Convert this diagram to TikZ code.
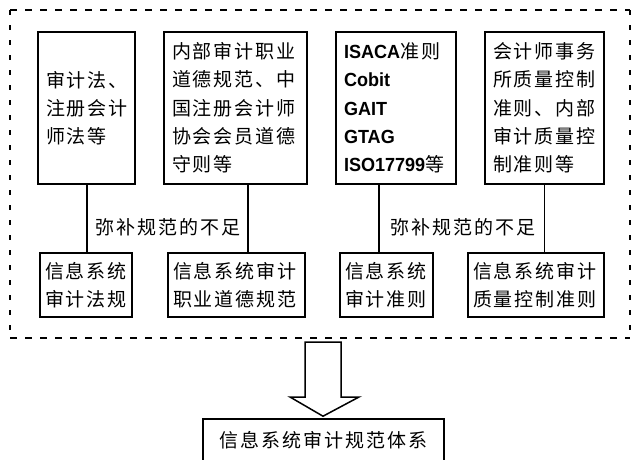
\documentclass[tikz,border=0pt]{standalone}
\usepackage{fontspec}
\setmainfont{Noto Sans CJK SC}[LetterSpace=10]
\newfontfamily\latf{Liberation Sans}[FakeStretch=0.95]
\usetikzlibrary{calc}
\tikzset{
  box/.style 2 args={draw, line width=1.6pt, inner sep=0pt, minimum width=#1, minimum height=#2,
     text width=#1-16pt, align=left, font=\fontsize{19}{28.3}\selectfont},
  sbox/.style 2 args={box={#1}{#2}, text width=#1-10pt},
  conn/.style={line width=1.4pt},
  lbl/.style={inner sep=0pt, font=\fontsize{19}{24}\selectfont},
  hframe/.style={line width=1.3pt, dash pattern=on 7pt off 8pt},
  vframe/.style={line width=1.3pt, dash pattern=on 5pt off 10pt},
  bigarrow/.style={draw, line width=1.5pt, fill=white, line join=miter}
}
\begin{document}
\begin{tikzpicture}[x=1pt,y=-1pt]
\useasboundingbox (0,0) rectangle (637,459);
\clip (0,0) rectangle (637,459);
\draw[hframe] (10,10) -- (630,10);
\draw[hframe] (10,338) -- (630,338);
\draw[vframe] (10,10) -- (10,338);
\draw[vframe] (630,10) -- (630,338);
% top boxes
\node[box={97pt}{152pt}] (t1) at (86.5,108) {审计法、\\注册会计\\师法等};
\node[box={143pt}{152pt}] (t2) at (235.5,108) {内部审计职业\\道德规范、中\\国注册会计师\\协会会员道德\\守则等};
\node[box={120pt}{152pt}] (t3) at (396,108) {{\latf\bfseries ISACA}准则\\{\latf\bfseries Cobit}\\{\latf\bfseries GAIT}\\{\latf\bfseries GTAG}\\{\latf\bfseries ISO17799}等};
\node[box={119pt}{152pt}] (t4) at (544.5,108) {会计师事务\\所质量控制\\准则、内部\\审计质量控\\制准则等};
% bottom boxes
\node[sbox={92pt}{64pt}] (b1) at (86,285) {信息系统\\审计法规};
\node[sbox={137pt}{64pt}] (b2) at (236.5,285) {信息系统审计\\职业道德规范};
\node[sbox={93pt}{64pt}] (b3) at (386.5,285) {信息系统\\审计准则};
\node[sbox={136pt}{64pt}] (b4) at (536,285) {信息系统审计\\质量控制准则};
% labels
\node[lbl] (l1) at (168,227) {弥补规范的不足};
\node[lbl] (l2) at (463,227) {弥补规范的不足};
% connectors
\draw[conn] ([xshift=0.5pt]t1.south) -- ([xshift=0.5pt]t1.south |- b1.north);
\draw[conn] ([xshift=12.5pt]t2.south) -- ([xshift=12.5pt]t2.south |- b2.north);
\draw[conn] ([xshift=-17pt]t3.south) -- ([xshift=-17pt]t3.south |- b3.north);
\draw[conn] (t4.south) -- (t4.south |- b4.north);
% final box
\node[box={241pt}{42pt}, align=center, text width=230pt, font=\fontsize{19}{24}\selectfont] (f) at (323.5,440) {信息系统审计规范体系};
\coordinate (tip) at ($(f.north)+(-0.5,-2)$);
\draw[bigarrow] (305,342) -- (341,342) -- (341,397) -- (359,397) -- (tip) -- (290,397) -- (305,397) -- cycle;
\end{tikzpicture}
\end{document}
